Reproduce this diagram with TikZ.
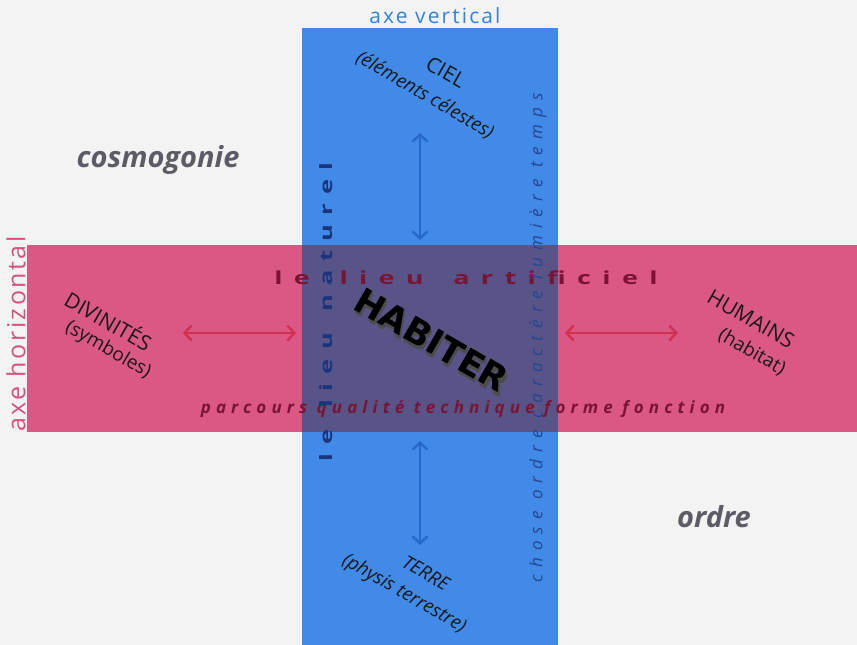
\documentclass[tikz,border=0pt]{standalone}
\usepackage{fontspec}
\setmainfont{Open Sans}
\newfontfamily\axisfont[LetterSpace=10]{Open Sans}
\newfontfamily\trackWide[LetterSpace=42]{Open Sans}
\newfontfamily\trackTall[LetterSpace=36]{Open Sans}
\newfontfamily\trackMid[LetterSpace=30]{Open Sans}
\newfontfamily\trackItal[LetterSpace=42]{Open Sans}
\newfontfamily\heavy{DejaVu Sans}
\usetikzlibrary{arrows.meta}

\definecolor{bgpaper}{RGB}{243,243,243}
\definecolor{bandblue}{RGB}{66,138,232}
\definecolor{bandpink}{RGB}{220,88,132}
\definecolor{bandmix}{RGB}{88,84,135}
\definecolor{arrowpink}{RGB}{208,48,82}
\definecolor{arrowblue}{RGB}{40,104,205}
\definecolor{wine}{RGB}{122,20,52}
\definecolor{navy}{RGB}{28,52,125}
\definecolor{labelgray}{RGB}{92,92,102}
\definecolor{axisblue}{RGB}{52,130,222}
\definecolor{axispink}{RGB}{214,82,122}

% block letters: several dark layers stacked under a black face
\newcommand\extruded[1]{%
  \rlap{\color{black!70}\hspace{3.0pt}\raisebox{-3.0pt}{#1}}%
  \rlap{\color{black!70}\hspace{2.4pt}\raisebox{-2.4pt}{#1}}%
  \rlap{\color{black!70}\hspace{1.8pt}\raisebox{-1.8pt}{#1}}%
  \rlap{\color{black!70}\hspace{1.2pt}\raisebox{-1.2pt}{#1}}%
  \rlap{\color{black!70}\hspace{0.6pt}\raisebox{-0.6pt}{#1}}%
  {\color{black}#1}}
% wide, extended lettering along the bands
\newcommand\widelettering[1]{\scalebox{1.5}[1]{#1}}

\tikzset{
  pole/.style={font=\fontsize{21}{23}\selectfont, text=black!90, inner sep=0pt, rotate=-30},
  polesub/.style={font=\fontsize{19}{21}\selectfont, text=black!90, inner sep=0pt, rotate=-30},
  realm/.style={font=\fontsize{29}{31}\selectfont\bfseries\itshape, text=labelgray, inner sep=0pt},
  vlink/.style={draw=arrowblue, line width=2.4pt, {Straight Barb[length=7pt,width=15pt]}-{Straight Barb[length=7pt,width=15pt]}},
  hlink/.style={draw=arrowpink, line width=2.4pt, {Straight Barb[length=7pt,width=15pt]}-{Straight Barb[length=7pt,width=15pt]}},
  habstyle/.style={font=\fontsize{35}{37}\heavy\bfseries, inner sep=0pt, rotate=-30}
}

\begin{document}
\begin{tikzpicture}[x=1pt,y=-1pt]
  % paper
  \fill[bgpaper] (0,0) rectangle (857,645);
  \useasboundingbox (0,0) rectangle (857,645);

  % the two axes and their crossing
  \fill[bandpink] (27,245) rectangle (857,432);
  \fill[bandblue] (302,28) rectangle (558,645);
  \fill[bandmix] (302,245) rectangle (558,432);

  % axis titles
  \node[inner sep=0pt, text=axisblue, font=\fontsize{21}{23}\axisfont] (axv) at (435,16) {axe vertical};
  \node[inner sep=0pt, text=axispink, rotate=90, font=\fontsize{25}{27}\axisfont] (axh) at (16,334) {axe horizontal};

  % corner words
  \node[realm] (cosmo) at (158,160) {cosmogonie};
  \node[realm] (ordre) at (714,517) {ordre};

  % texts running along the bands
  \node[inner sep=0pt, text=wine, font=\fontsize{18}{20}\trackWide\bfseries] (artif) at (466,278) {\widelettering{le\hspace{7.5pt} lieu\hspace{7.5pt} artificiel}};
  \node[inner sep=0pt, text=wine, font=\fontsize{17}{19}\trackMid\bfseries\itshape] (parc) at (463,409) {parcours qualité technique forme fonction};
  \node[inner sep=0pt, text=navy, rotate=90, font=\fontsize{17}{19}\trackTall\bfseries] (natur) at (326,312) {\widelettering{le\hspace{3.6pt} lieu\hspace{3.6pt} naturel}};
  \node[inner sep=0pt, text=navy!80!bandblue, rotate=90, font=\fontsize{17}{19}\trackItal\itshape] (chose) at (538,338) {chose ordre caractère lumière temps};

  % the four poles
  \node[pole] (ciel) at (446,72) {CIEL};
  \node[polesub, font=\fontsize{19}{21}\selectfont\itshape] (cielsub) at (425,95) {(éléments célestes)};
  \node[pole, font=\fontsize{19}{21}\selectfont\itshape] (terre) at (426,573) {TERRE};
  \node[polesub, font=\fontsize{19}{21}\selectfont\itshape] (terresub) at (404,594) {(physis terrestre)};
  \node[pole] (divin) at (109,320) {DIVINITÉS};
  \node[polesub] (divinsub) at (108,350) {(symboles)};
  \node[pole] (hum) at (751,319) {HUMAINS};
  \node[polesub] (humsub) at (752,352) {(habitat)};

  % anchor points of the double arrows
  \coordinate (vtopA) at (420,133);
  \coordinate (vtopB) at (420,240);
  \coordinate (vbotA) at (420,441);
  \coordinate (vbotB) at (420,545);
  \coordinate (hleftA) at (183,333);
  \coordinate (hleftB) at (296,333);
  \coordinate (hrightA) at (565,333);
  \coordinate (hrightB) at (678,333);
  \draw[vlink] (vtopA) -- (vtopB);
  \draw[vlink] (vbotA) -- (vbotB);
  \draw[hlink] (hleftA) -- (hleftB);
  \draw[hlink] (hrightA) -- (hrightB);

  % the central word
  \node[habstyle] (hab) at (431,341) {\extruded{HABITER}};
\end{tikzpicture}
\end{document}
